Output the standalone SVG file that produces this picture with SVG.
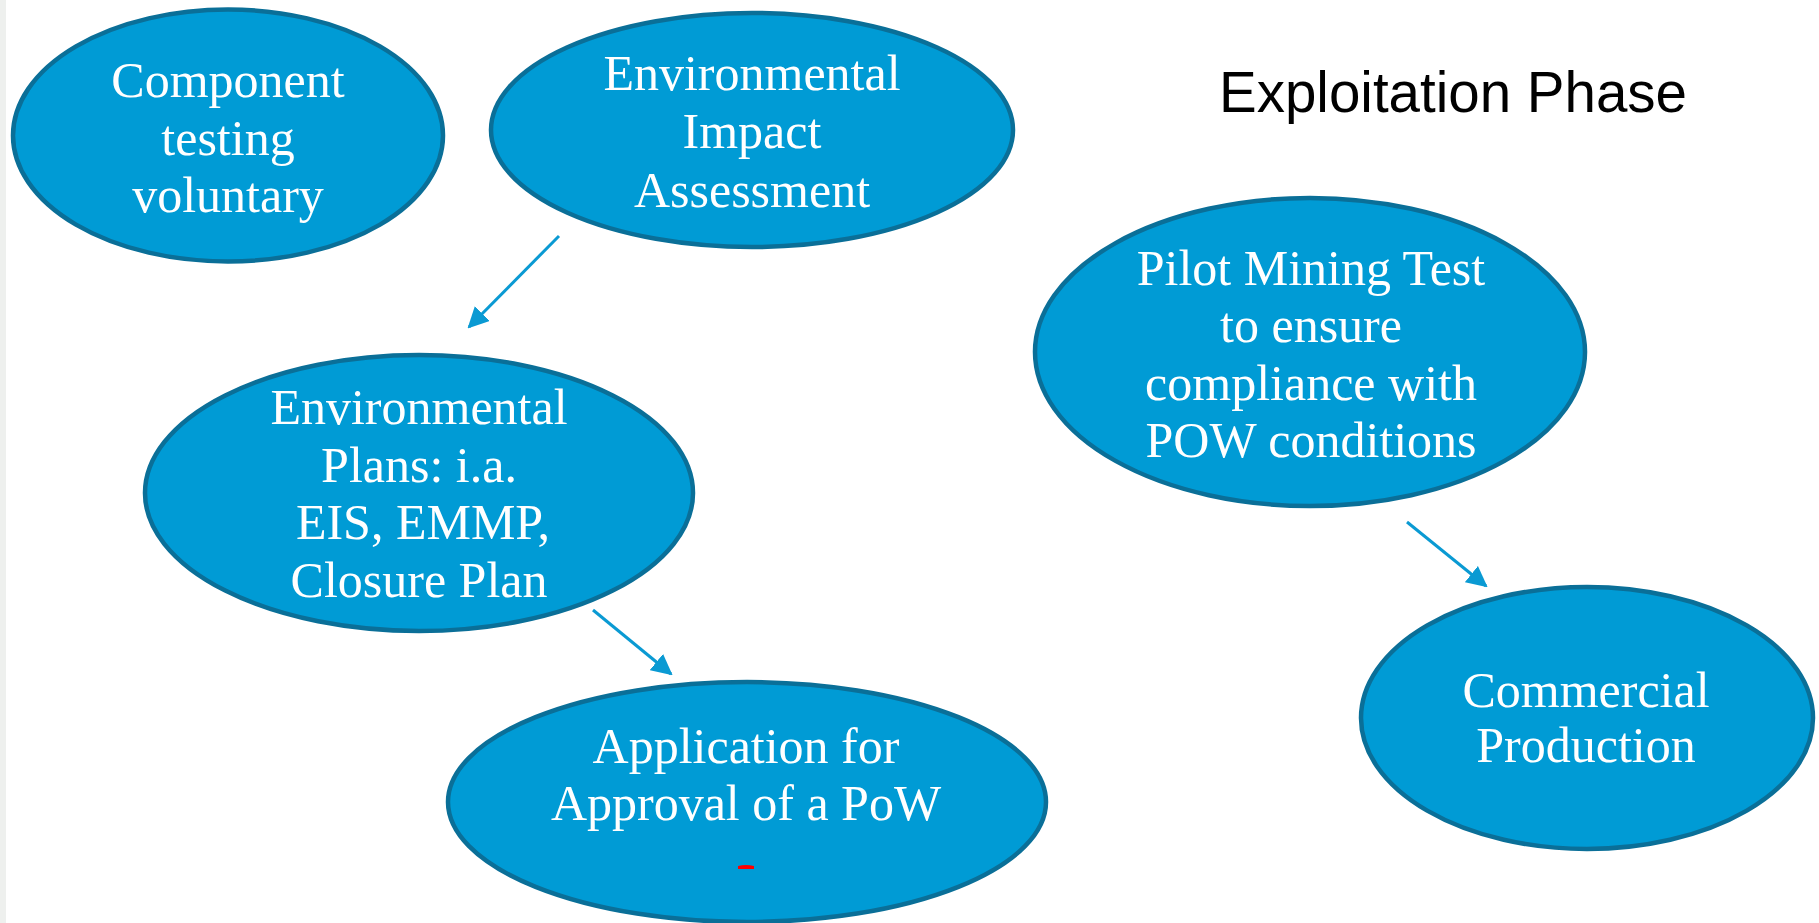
<svg xmlns="http://www.w3.org/2000/svg" width="1819" height="923" viewBox="0 0 1819 923">
<style>
.node{fill:#009bd5;stroke:#0a6f98;stroke-width:4.5}
.lbl{font-family:"Liberation Serif","Times New Roman",serif;font-size:50px;fill:#ffffff;text-anchor:middle}
.title{font-family:"Liberation Sans",Arial,sans-serif;font-size:56.5px;fill:#000000}
.conn{stroke:#0a9ad3;stroke-width:3;fill:none}
</style>
<defs>
<marker id="ah" viewBox="0 0 10 10" refX="9" refY="5" markerWidth="7" markerHeight="7" orient="auto" markerUnits="strokeWidth">
<path d="M0,0 L10,5 L0,10 z" fill="#0a9ad3"/>
</marker>
</defs>
<rect x="0" y="0" width="1819" height="923" fill="#ffffff"/>
<rect x="0" y="0" width="6" height="923" fill="#eef0ee"/>
<text class="title" x="1219" y="112">Exploitation Phase</text>
<g id="connectors">
<line class="conn" x1="559" y1="236" x2="469" y2="327" marker-end="url(#ah)"/>
<line class="conn" x1="593" y1="610" x2="671" y2="674" marker-end="url(#ah)"/>
<line class="conn" x1="1407" y1="522" x2="1486" y2="586" marker-end="url(#ah)"/>
</g>
<g id="component-testing">
<ellipse class="node" cx="228" cy="135.5" rx="215" ry="126"/>
<text class="lbl" x="228" y="97">Component</text>
<text class="lbl" x="228" y="155">testing</text>
<text class="lbl" x="228" y="212">voluntary</text>
</g>
<g id="eia">
<ellipse class="node" cx="752" cy="130" rx="261" ry="117"/>
<text class="lbl" x="752" y="90">Environmental</text>
<text class="lbl" x="752" y="148">Impact</text>
<text class="lbl" x="752" y="207">Assessment</text>
</g>
<g id="env-plans">
<ellipse class="node" cx="419" cy="493" rx="274" ry="138"/>
<text class="lbl" x="419" y="424">Environmental</text>
<text class="lbl" x="419" y="482">Plans: i.a.</text>
<text class="lbl" x="423" y="539">EIS, EMMP,</text>
<text class="lbl" x="419" y="597">Closure Plan</text>
</g>
<g id="application">
<ellipse class="node" cx="747" cy="802" rx="299" ry="120"/>
<text class="lbl" x="746" y="763">Application for</text>
<text class="lbl" x="746" y="820">Approval of a PoW</text>
<path d="M738,869 L738,866 Q746,864 754,866 L754,869 z" fill="#ff0000"/>
</g>
<g id="pilot-mining">
<ellipse class="node" cx="1310" cy="352" rx="275" ry="154"/>
<text class="lbl" x="1311" y="285">Pilot Mining Test</text>
<text class="lbl" x="1311" y="342">to ensure</text>
<text class="lbl" x="1311" y="400">compliance with</text>
<text class="lbl" x="1311" y="457">POW conditions</text>
</g>
<g id="commercial-production">
<ellipse class="node" cx="1587" cy="718" rx="226" ry="131"/>
<text class="lbl" x="1586" y="707">Commercial</text>
<text class="lbl" x="1586" y="762">Production</text>
</g>
</svg>
